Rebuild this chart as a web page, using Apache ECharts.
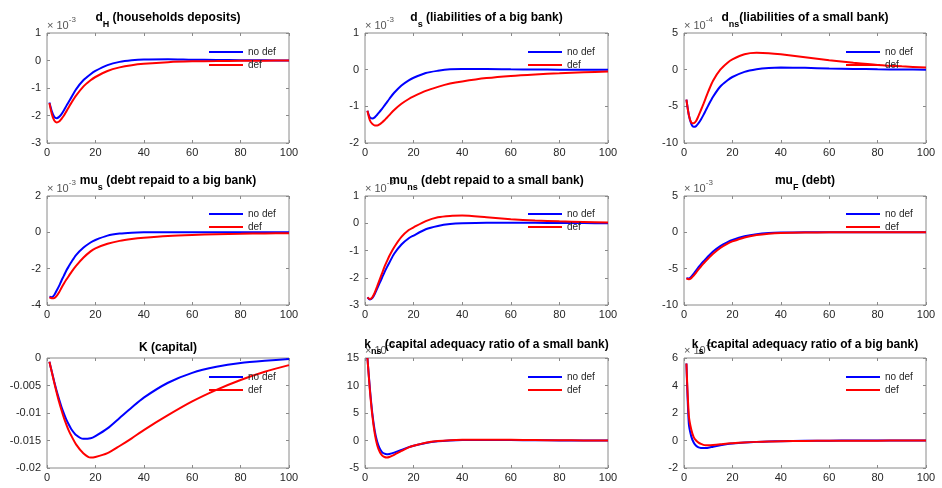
<!DOCTYPE html>
<html>
<head>
<meta charset="utf-8">
<script src="https://cdn.jsdelivr.net/npm/echarts@6/dist/echarts.min.js"></script>
<style>
  html, body { margin: 0; padding: 0; background: #fff; }
  #chart { width: 942px; height: 488px; }
</style>
</head>
<body>
<div id="chart"></div>
<script>
// periods after the shock (shared by all panels)
const steps = [1, 2, 3, 4, 5, 6, 7, 8, 9, 10, 12, 15, 18, 20, 25, 30, 35, 40, 50, 60, 70, 80, 90, 100];
const seriesNames = ["no def", "def"];

// d_H  (x 1e-3)
const dhNoDef = [-1.53, -1.85, -2.05, -2.1, -2.05, -1.95, -1.81, -1.65, -1.5, -1.35, -1.05, -0.72, -0.5, -0.38, -0.17, -0.05, 0.01, 0.04, 0.05, 0.03, 0.02, 0.01, 0.005, 0];
const dhDef = [-1.55, -1.95, -2.18, -2.25, -2.22, -2.12, -2.0, -1.85, -1.7, -1.55, -1.28, -0.95, -0.72, -0.6, -0.38, -0.25, -0.17, -0.12, -0.06, -0.03, -0.02, -0.01, -0.005, 0];
// d_s  (x 1e-3)
const dsNoDef = [-1.12, -1.3, -1.33, -1.3, -1.23, -1.15, -1.07, -0.98, -0.89, -0.8, -0.63, -0.43, -0.29, -0.22, -0.09, -0.03, 0.01, 0.02, 0.02, 0.01, 0.005, 0, 0, 0];
const dsDef = [-1.12, -1.38, -1.48, -1.52, -1.52, -1.49, -1.44, -1.38, -1.31, -1.24, -1.1, -0.93, -0.8, -0.73, -0.58, -0.47, -0.38, -0.32, -0.23, -0.17, -0.13, -0.1, -0.07, -0.05];
// d_ns (x 1e-4)
const dnsNoDef = [-4.1, -6.2, -7.4, -7.8, -7.7, -7.3, -6.8, -6.2, -5.55, -4.9, -3.7, -2.3, -1.45, -1.0, -0.3, 0.05, 0.22, 0.28, 0.25, 0.15, 0.1, 0.05, 0.02, 0];
const dnsDef = [-4.1, -6.2, -7.2, -7.3, -7.0, -6.3, -5.5, -4.7, -3.85, -3.0, -1.5, 0.0, 0.95, 1.4, 2.1, 2.3, 2.25, 2.1, 1.7, 1.3, 0.95, 0.65, 0.45, 0.3];
// mu_s (x 1e-3)
const musNoDef = [-3.55, -3.57, -3.45, -3.2, -2.95, -2.65, -2.38, -2.1, -1.87, -1.65, -1.25, -0.85, -0.56, -0.42, -0.18, -0.07, -0.02, 0, 0.01, 0, 0, 0, 0, 0];
const musDef = [-3.58, -3.63, -3.62, -3.5, -3.3, -3.05, -2.82, -2.6, -2.4, -2.2, -1.85, -1.4, -1.05, -0.88, -0.63, -0.47, -0.37, -0.3, -0.2, -0.14, -0.1, -0.08, -0.06, -0.05];
// mu_ns (x 1e-3)
const munsNoDef = [-2.72, -2.8, -2.75, -2.6, -2.4, -2.2, -2.0, -1.8, -1.62, -1.45, -1.12, -0.78, -0.55, -0.45, -0.22, -0.1, -0.03, 0, 0.02, 0.02, 0.015, 0.01, 0.005, 0];
const munsDef = [-2.72, -2.78, -2.72, -2.55, -2.32, -2.08, -1.84, -1.6, -1.4, -1.2, -0.88, -0.5, -0.25, -0.15, 0.08, 0.22, 0.27, 0.28, 0.22, 0.15, 0.1, 0.07, 0.05, 0.03];
// mu_F (x 1e-3)
const mufNoDef = [-6.3, -6.35, -6.1, -5.7, -5.25, -4.8, -4.4, -4.0, -3.65, -3.3, -2.65, -1.9, -1.35, -1.05, -0.55, -0.25, -0.1, -0.04, 0, 0, 0, 0, 0, 0];
const mufDef = [-6.35, -6.45, -6.3, -5.95, -5.55, -5.1, -4.7, -4.3, -3.95, -3.6, -2.95, -2.15, -1.55, -1.25, -0.7, -0.37, -0.18, -0.08, -0.02, 0, 0, 0, 0, 0];
// K
const kNoDef = [-0.0007, -0.0025, -0.0043, -0.006, -0.0075, -0.0089, -0.0101, -0.0112, -0.0121, -0.0129, -0.014, -0.0147, -0.0146, -0.0142, -0.0128, -0.0109, -0.009, -0.0072, -0.0045, -0.0027, -0.0016, -0.0009, -0.0005, -0.0002];
const kDef = [-0.0007, -0.0026, -0.0045, -0.0063, -0.008, -0.0095, -0.0109, -0.0121, -0.0132, -0.0141, -0.0157, -0.0173, -0.0181, -0.018, -0.0173, -0.016, -0.0146, -0.0131, -0.0104, -0.0079, -0.0058, -0.004, -0.0025, -0.0013];
// k_ns (x 1e-6)
const knsNoDef = [15, 9.5, 5, 1.8, -0.2, -1.4, -2.1, -2.4, -2.5, -2.45, -2.2, -1.7, -1.2, -0.95, -0.45, -0.15, 0, 0.08, 0.1, 0.08, 0.05, 0.02, 0.01, 0];
const knsDef = [15, 9.2, 4.6, 1.3, -0.8, -2.0, -2.7, -3.0, -3.1, -3.0, -2.6, -1.9, -1.25, -0.95, -0.4, -0.1, 0.05, 0.12, 0.15, 0.12, 0.08, 0.05, 0.02, 0];
// k_s (x 1e-5)
const ksNoDef = [5.6, 1.2, 0.3, -0.15, -0.38, -0.5, -0.54, -0.55, -0.54, -0.52, -0.45, -0.35, -0.26, -0.22, -0.15, -0.1, -0.07, -0.05, -0.02, -0.01, 0, 0, 0, 0];
const ksDef = [5.6, 1.8, 0.8, 0.25, 0, -0.15, -0.25, -0.32, -0.35, -0.35, -0.33, -0.28, -0.22, -0.2, -0.14, -0.1, -0.08, -0.06, -0.03, -0.02, -0.01, -0.01, 0, 0];

// panel titles: [main, subscript, rest]
const titles = [
  ["d", "H", " (households deposits)"],
  ["d", "s", " (liabilities of a big bank)"],
  ["d", "ns", "(liabilities of a small bank)"],
  ["mu", "s", " (debt repaid to a big bank)"],
  ["mu", "ns", " (debt repaid to a small bank)"],
  ["mu", "F", " (debt)"],
  ["K (capital)", "", ""],
  ["k", "ns", " (capital adequacy ratio of a small bank)"],
  ["k", "s", " (capital adequacy ratio of a big bank)"]
];
const exponents = ["-3", "-3", "-4", "-3", "-3", "-3", null, "-6", "-5"];
const yRanges = [[-3, 1, 1], [-2, 1, 1], [-10, 5, 5], [-4, 2, 2], [-3, 1, 1], [-10, 5, 5], [-0.02, 0, 0.005], [-5, 15, 5], [-2, 6, 2]];
const noDefData = [dhNoDef, dsNoDef, dnsNoDef, musNoDef, munsNoDef, mufNoDef, kNoDef, knsNoDef, ksNoDef];
const defData = [dhDef, dsDef, dnsDef, musDef, munsDef, mufDef, kDef, knsDef, ksDef];

const colLeft = [47, 365, 684];
const colWidth = [242, 243, 242];
const rowTop = [33, 196, 358];
const rowHeight = [110, 109, 110];
const titleTop = [12, 175, 339];

const font = "'Liberation Sans', Arial, Helvetica, sans-serif";
const axisGray = "#8a8a8a";
const labelColor = "#262626";

const chart = echarts.init(document.getElementById("chart"), null, { renderer: "canvas" });

const grid = [], xAxis = [], yAxis = [], series = [], legend = [], graphic = [];

titles.forEach((t, i) => {
  const r = Math.floor(i / 3), c = i % 3;
  const left = colLeft[c], top = rowTop[r], w = colWidth[c], h = rowHeight[r];
  const [yMin, yMax, yInt] = yRanges[i];

  grid.push({ left, top, width: w, height: h, show: true, borderColor: axisGray, borderWidth: 1, backgroundColor: "transparent" });

  const tick = { show: true, inside: true, length: 3, lineStyle: { color: axisGray, width: 1 } };
  xAxis.push({
    gridIndex: i, type: "value", min: 0, max: 100, interval: 20,
    axisLine: { show: false, onZero: false }, axisTick: tick, splitLine: { show: false },
    axisLabel: { color: labelColor, fontSize: 11, fontFamily: font, margin: 4 }
  });
  xAxis.push({
    gridIndex: i, type: "value", position: "top", min: 0, max: 100, interval: 20,
    axisLine: { show: false, onZero: false }, axisTick: tick, splitLine: { show: false }, axisLabel: { show: false }
  });
  yAxis.push({
    gridIndex: i, type: "value", min: yMin, max: yMax, interval: yInt,
    axisLine: { show: false, onZero: false }, axisTick: tick, splitLine: { show: false },
    axisLabel: { color: labelColor, fontSize: 11, fontFamily: font, margin: 6 }
  });
  yAxis.push({
    gridIndex: i, type: "value", position: "right", min: yMin, max: yMax, interval: yInt,
    axisLine: { show: false, onZero: false }, axisTick: tick, splitLine: { show: false }, axisLabel: { show: false }
  });

  [[seriesNames[0], noDefData[i], "#0000ff"], [seriesNames[1], defData[i], "#ff0000"]].forEach(([name, vals, color]) => {
    series.push({
      name, type: "line", xAxisIndex: 2 * i, yAxisIndex: 2 * i,
      data: steps.map((x, k) => [x, vals[k]]),
      symbol: "none", smooth: 0.25,
      color, lineStyle: { color, width: 2 }
    });
  });

  legend.push({
    data: seriesNames, orient: "vertical", left: left + w - 80, top: top + (r === 1 ? 12 : 13),
    icon: "rect", itemWidth: 34, itemHeight: 2, itemGap: 1, padding: 0,
    textStyle: { fontSize: 10, fontFamily: font, color: labelColor, lineHeight: 12 }
  });

  if (exponents[i]) {
    graphic.push({
      type: "text", x: left, y: top - 17, z: 1,
      style: {
        text: "{a|× 10}{e|" + exponents[i] + "}",
        align: "left", verticalAlign: "top",
        rich: {
          a: { fontSize: 11, fontFamily: font, fill: "#555", verticalAlign: "top", padding: [4, 0, 0, 0], lineHeight: 12 },
          e: { fontSize: 8, fontFamily: font, fill: "#555", verticalAlign: "top", lineHeight: 9 }
        }
      }
    });
  }

  const txt = t[1]
    ? "{b|" + t[0] + "}{s|" + t[1] + "}{b|" + t[2] + "}"
    : "{b|" + t[0] + "}";
  graphic.push({
    type: "text", x: left + w / 2, y: titleTop[r] + (i === 6 ? 3 : 0), z: 2,
    style: {
      text: txt, align: "center", verticalAlign: "top",
      rich: {
        b: { fontSize: 12, fontWeight: "bold", fontFamily: font, fill: "#000", verticalAlign: "top", lineHeight: 14 },
        s: { fontSize: 9, fontWeight: "bold", fontFamily: font, fill: "#000", verticalAlign: "top", lineHeight: 10, padding: [8, 0, 0, 0] }
      }
    }
  });
});

chart.setOption({
  animation: false,
  backgroundColor: "#fff",
  grid, xAxis, yAxis, series, legend, graphic
});
</script>
</body>
</html>
